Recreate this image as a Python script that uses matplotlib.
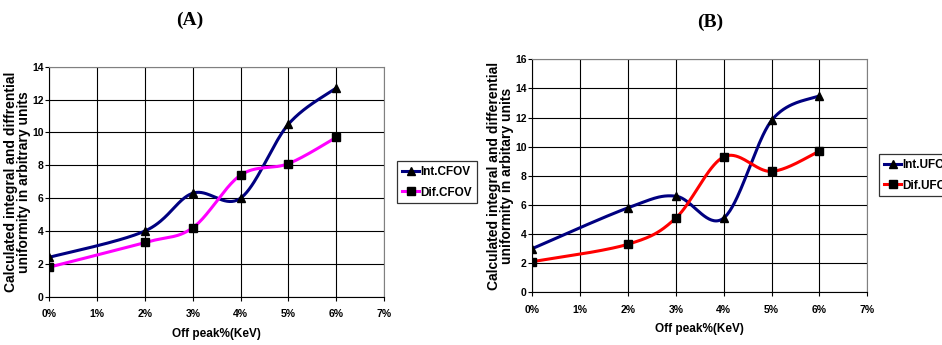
import numpy as np
import matplotlib
matplotlib.use("Agg")
import matplotlib.pyplot as plt
from matplotlib.lines import Line2D

# ---- data ----
x_pct = [0, 2, 3, 4, 5, 6]
xtick_vals = [0, 1, 2, 3, 4, 5, 6, 7]
xtick_labels = ["0%", "1%", "2%", "3%", "4%", "5%", "6%", "7%"]

int_cfov = [2.4, 4.0, 6.3, 6.0, 10.5, 12.7]
dif_cfov = [1.8, 3.3, 4.2, 7.4, 8.1, 9.7]

int_ufov = [3.0, 5.8, 6.6, 5.1, 11.8, 13.5]
dif_ufov = [2.1, 3.3, 5.1, 9.3, 8.3, 9.7]

FONT = ["Liberation Sans", "DejaVu Sans"]


def smooth(xs, ys, n=40):
    """Excel-like smoothed line: Catmull-Rom Bezier through the data points."""
    P = np.column_stack([xs, ys]).astype(float)
    out = []
    m = len(P)
    for i in range(m - 1):
        p0 = P[i - 1] if i > 0 else P[i]
        p1 = P[i]
        p2 = P[i + 1]
        p3 = P[i + 2] if i + 2 < m else P[i + 1]
        c1 = p1 + (p2 - p0) / 6.0
        c2 = p2 - (p3 - p1) / 6.0
        t = np.linspace(0, 1, n)[:, None]
        seg = ((1 - t) ** 3) * p1 + 3 * ((1 - t) ** 2) * t * c1 + 3 * (1 - t) * t ** 2 * c2 + t ** 3 * p2
        out.append(seg if i == 0 else seg[1:])
    s = np.vstack(out)
    return s[:, 0], s[:, 1]


fig = plt.figure(figsize=(9.42, 3.45), dpi=100)


def panel(rect, s_int, s_dif, dif_color, ymax, names, ylabel, title, title_xy,
          legend_anchor, legend_size):
    ax = fig.add_axes(rect)
    xi, yi = smooth(x_pct, s_int)
    xd, yd = smooth(x_pct, s_dif)
    ax.plot(xi, yi, color="#000080", lw=2.2, zorder=3)
    ax.plot(x_pct, s_int, ls="none", marker="^", ms=6, color="black", zorder=4)
    ax.plot(xd, yd, color=dif_color, lw=2.2, zorder=3)
    ax.plot(x_pct, s_dif, ls="none", marker="s", ms=6, color="black", zorder=4)

    ax.set_xlim(0, 7)
    ax.set_ylim(0, ymax)
    ax.set_xticks(xtick_vals)
    ax.set_xticklabels(xtick_labels)
    ax.set_yticks(np.arange(0, ymax + 1, 2))
    ax.grid(True, color="black", lw=0.8)
    ax.set_axisbelow(True)
    for sp in ["top", "right"]:
        ax.spines[sp].set_color("#808080")
        ax.spines[sp].set_linewidth(0.8)
    for sp in ["left", "bottom"]:
        ax.spines[sp].set_color("black")
        ax.spines[sp].set_linewidth(0.8)
    ax.tick_params(axis="both", direction="out", length=3, width=0.8, labelsize=7.5,
                   pad=1)
    ax.tick_params(axis="x", pad=6)
    for lab in ax.get_xticklabels() + ax.get_yticklabels():
        lab.set_fontweight("bold")
        lab.set_family(FONT)
    ax.set_xlabel("Off peak%(KeV)", fontsize=8.5, fontweight="bold", family=FONT,
                  labelpad=6)
    ax.set_ylabel(ylabel, fontsize=10, fontweight="bold", family=FONT,
                  linespacing=0.9)
    ax.yaxis.set_label_coords(-0.056, 0.5)

    handles = [
        Line2D([], [], color="#000080", lw=2.2, marker="^", ms=6,
               markerfacecolor="black", markeredgecolor="black"),
        Line2D([], [], color=dif_color, lw=2.2, marker="s", ms=6,
               markerfacecolor="black", markeredgecolor="black"),
    ]
    leg = fig.legend(handles, names, loc="upper left", bbox_to_anchor=legend_anchor,
                     frameon=True, fancybox=False, edgecolor="black",
                     prop={"family": FONT, "weight": "bold", "size": legend_size},
                     handlelength=1.5, handletextpad=0.1, borderpad=0.4,
                     labelspacing=0.75, borderaxespad=0)
    leg.get_frame().set_linewidth(0.9)
    fig.text(title_xy[0], title_xy[1], title, ha="center", va="center",
             fontsize=14, fontweight="bold", family="Liberation Serif")
    return ax


panel([0.0524, 0.140, 0.3553, 0.6667], int_cfov, dif_cfov, "#FF00FF", 14,
      ["Int.CFOV", "Dif.CFOV"],
      "Calculated integral and diffrential\nuniformity in arbitrary units",
      "(A)", (190 / 942, 1 - 20 / 345), (397 / 942, 1 - 161 / 345), 8.5)

panel([0.5651, 0.1528, 0.3556, 0.6754], int_ufov, dif_ufov, "#FF0000", 16,
      ["Int.UFOV", "Dif.UFOV"],
      "Calculated integral and differential\nuniformity in arbitary units",
      "(B)", (710 / 942, 1 - 22 / 345), (879 / 942, 1 - 154 / 345), 8.5)

fig.savefig("out.png", dpi=100)
